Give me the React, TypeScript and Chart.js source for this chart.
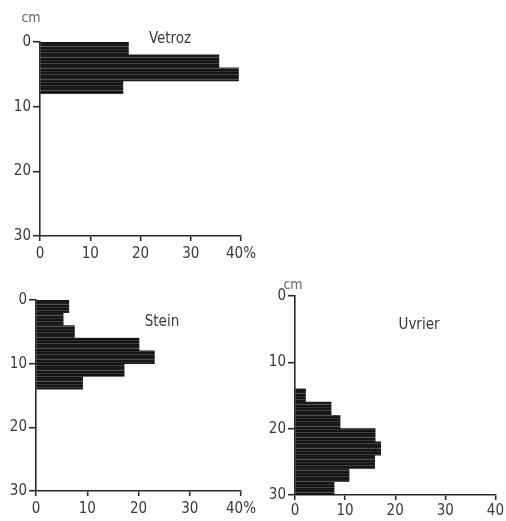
import React, { useEffect, useRef } from "react";
import { Chart, registerables } from "chart.js";

Chart.register(...registerables);

// Depth bins (cm, bin centres) and share of items (%)
const vetrozDepth = [1, 3, 5, 7];
const vetrozPct = [17.6, 35.6, 39.5, 16.5];

const steinDepth = [1, 3, 5, 7, 9, 11, 13];
const steinPct = [6.4, 5.3, 7.5, 20.1, 23.1, 17.2, 9.1];

const uvrierDepth = [15, 17, 19, 21, 23, 25, 27, 29];
const uvrierPct = [2.1, 7.2, 9.0, 16.0, 17.1, 15.9, 10.8, 7.8];

const depthTicks = [0, 10, 20, 30];
const pctTicks = [0, 10, 20, 30, 40];

const FONT = "'Liberation Sans Narrow', 'DejaVu Sans Condensed', 'Liberation Sans', sans-serif";
const INK = "#2a2a2a";
const TEXT = "#3a3a3a";

type PanelProps = {
  title: string;
  depth: number[];
  pct: number[];
  left: number;
  top: number;
  width: number;
  height: number;
  padTop: number;
  padRight: number;
  yWidth: number;
  xHeight: number;
  xLabelPad: number;
  lastLabel: string;
  titleX: number;
  titleY: number;
  cm?: { x: number; y: number };
};

function makePattern(ctx: CanvasRenderingContext2D) {
  const pc = document.createElement("canvas");
  const rows = ["#141414", "#222222", "#4e4e4e", "#1a1a1a", "#101010", "#353535", "#161616", "#111111", "#444444", "#121212", "#1e1e1e"];
  pc.width = 1;
  pc.height = rows.length;
  const pctx = pc.getContext("2d")!;
  rows.forEach((c, i) => {
    pctx.fillStyle = c;
    pctx.fillRect(0, i, 1, 1);
  });
  return ctx.createPattern(pc, "repeat")!;
}

function Panel(p: PanelProps) {
  const ref = useRef<HTMLCanvasElement | null>(null);
  useEffect(() => {
    const canvas = ref.current!;
    const ctx = canvas.getContext("2d")!;
    const pattern = makePattern(ctx);
    const textPlugin = {
      id: "panelText",
      afterDraw(chart: any) {
        const c = chart.ctx;
        c.save();
        c.fillStyle = TEXT;
        c.font = `15px ${FONT}`;
        c.textAlign = "center";
        c.textBaseline = "middle";
        c.fillText(p.title, p.titleX, p.titleY);
        if (p.cm) {
          c.fillStyle = "#6a6a6a";
          c.font = `14px ${FONT}`;
          c.fillText("cm", p.cm.x, p.cm.y);
        }
        c.restore();
      },
    };
    const gridOpts = (len: number) => ({
      display: true,
      offset: false,
      drawOnChartArea: false,
      drawTicks: true,
      tickLength: len,
      color: INK,
      lineWidth: 1.4,
      tickColor: INK,
      tickWidth: 1.6,
    });
    const chart = new Chart(canvas, {
      type: "bar",
      data: {
        datasets: [
          {
            data: p.depth.map((d, i) => ({ x: p.pct[i], y: d })),
            backgroundColor: pattern as any,
            borderWidth: 0,
            barPercentage: 1,
            categoryPercentage: 1,
          } as any,
        ],
      },
      options: {
        indexAxis: "y",
        responsive: false,
        animation: false,
        layout: { padding: { top: p.padTop, right: p.padRight, left: 0, bottom: 0 } },
        plugins: { legend: { display: false }, tooltip: { enabled: false } },
        scales: {
          x: {
            type: "linear",
            min: 0,
            max: 40,
            offset: false,
            afterBuildTicks: (s: any) => {
              s.ticks = pctTicks.map((v) => ({ value: v }));
            },
            ticks: {
              color: TEXT,
              font: { family: FONT, size: 15 },
              padding: p.xLabelPad,
              maxRotation: 0,
              callback: (v: any) => (v === 40 ? p.lastLabel : String(v)),
            },
            grid: gridOpts(5),
            border: { display: true, color: INK, width: 1.6 },
            afterFit: (s: any) => {
              s.height = p.xHeight;
            },
          },
          y: {
            type: "linear",
            reverse: true,
            min: 0,
            max: 30,
            offset: false,
            afterBuildTicks: (s: any) => {
              s.ticks = depthTicks.map((v) => ({ value: v }));
            },
            ticks: {
              color: TEXT,
              font: { family: FONT, size: 15 },
              padding: 2,
              callback: (v: any) => String(v),
            },
            grid: gridOpts(7),
            border: { display: true, color: INK, width: 1.6 },
            afterFit: (s: any) => {
              s.width = p.yWidth;
            },
          },
        },
      } as any,
      plugins: [textPlugin],
    });
    return () => chart.destroy();
  }, []);
  return (
    <canvas
      ref={ref}
      width={p.width}
      height={p.height}
      style={{ position: "absolute", left: p.left, top: p.top, width: p.width, height: p.height }}
    />
  );
}

export default function App() {
  return (
    <div
      style={{
        position: "absolute",
        left: 0,
        top: 0,
        width: 506,
        height: 521,
        background: "#fdfdfb",
        overflow: "hidden",
      }}
    >
      <Panel
        title="Vetroz"
        depth={vetrozDepth}
        pct={vetrozPct}
        left={0}
        top={0}
        width={260}
        height={265}
        padTop={42}
        padRight={15}
        yWidth={40}
        xHeight={29}
        xLabelPad={4}
        lastLabel="40%"
        titleX={170}
        titleY={39}
        cm={{ x: 31, y: 18 }}
      />
      <Panel
        title="Stein"
        depth={steinDepth}
        pct={steinPct}
        left={0}
        top={280}
        width={260}
        height={241}
        padTop={20}
        padRight={17}
        yWidth={36}
        xHeight={30}
        xLabelPad={4}
        lastLabel="40%"
        titleX={162}
        titleY={42}
      />
      <Panel
        title="Uvrier"
        depth={uvrierDepth}
        pct={uvrierPct}
        left={255}
        top={270}
        width={251}
        height={251}
        padTop={26}
        padRight={7}
        yWidth={40}
        xHeight={26}
        xLabelPad={2}
        lastLabel="40"
        titleX={164}
        titleY={55}
        cm={{ x: 38, y: 15 }}
      />
    </div>
  );
}
